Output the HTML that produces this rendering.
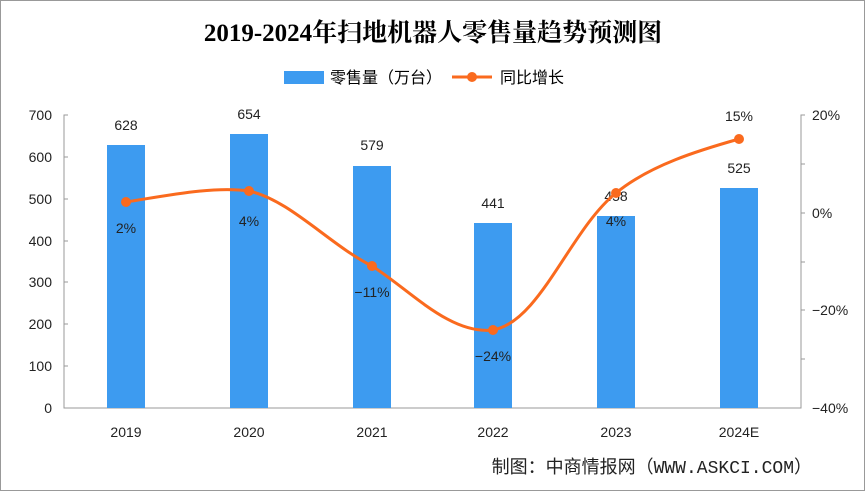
<!DOCTYPE html><html><head><meta charset="utf-8"><style>body{margin:0;background:#fff}svg{display:block}text{font-family:"Liberation Sans","Noto Sans CJK SC",sans-serif}</style></head><body>
<svg width="865" height="491" viewBox="0 0 865 491">
<rect x="0.5" y="0.5" width="864" height="490" fill="#fff" stroke="#999"/>
<text x="433" y="41" text-anchor="middle" font-size="25" font-weight="bold" style="font-family:'Liberation Serif','Noto Serif CJK SC',serif">2019-2024年扫地机器人零售量趋势预测图</text>
<rect x="284" y="71" width="40" height="13" fill="#3d9bf0"/>
<text x="330" y="83" font-size="16">零售量（万台）</text>
<line x1="452" y1="77" x2="492" y2="77" stroke="#fa6a1e" stroke-width="3"/><circle cx="472" cy="77" r="5" fill="#fa6a1e"/>
<text x="500" y="83" font-size="16">同比增长</text>
<g stroke="#999" fill="none"><path d="M68 115H64V408H801V115H805"/>
<path d="M64 157h4M64 199h4M64 241h4M64 282h4M64 324h4M64 366h4M801 164h4M801 213h4M801 262h4M801 310h4M801 359h4"/></g>
<g font-size="14" text-anchor="end" fill="#222"><text x="52" y="120">700</text><text x="52" y="162">600</text><text x="52" y="204">500</text><text x="52" y="246">400</text><text x="52" y="287">300</text><text x="52" y="329">200</text><text x="52" y="371">100</text><text x="52" y="413">0</text></g>
<g font-size="14" fill="#222" style="font-family:'Liberation Serif',serif"><text x="812" y="120">20%</text><text x="812" y="218">0%</text><text x="812" y="315">−20%</text><text x="812" y="413">−40%</text></g>
<g fill="#3d9bf0"><rect x="107" y="145" width="38" height="263"/><rect x="230" y="134" width="38" height="274"/><rect x="353" y="166" width="38" height="242"/><rect x="474" y="223" width="38" height="185"/><rect x="597" y="216" width="38" height="192"/><rect x="720" y="188" width="38" height="220"/></g>
<g font-size="14" text-anchor="middle" fill="#222"><text x="126" y="130">628</text><text x="249" y="119">654</text><text x="372" y="150">579</text><text x="493" y="208">441</text><text x="616" y="201">458</text><text x="739" y="173">525</text>
<text x="126" y="437">2019</text><text x="249" y="437">2020</text><text x="372" y="437">2021</text><text x="493" y="437">2022</text><text x="616" y="437">2023</text><text x="739" y="437">2024E</text></g>
<path d="M126 202C170 195 215 186 249 191C290 200 330 245 372 266C410 290 450 335 493 330C540 322 570 230 616 193C650 165 700 150 739 139" fill="none" stroke="#fa6a1e" stroke-width="3"/>
<g fill="#fa6a1e"><circle cx="126" cy="202" r="5"/><circle cx="249" cy="191" r="5"/><circle cx="372" cy="266" r="5"/><circle cx="493" cy="330" r="5"/><circle cx="616" cy="193" r="5"/><circle cx="739" cy="139" r="5"/></g>
<g font-size="14" text-anchor="middle" fill="#222" style="font-family:'Liberation Serif',serif"><text x="126" y="233">2%</text><text x="249" y="226">4%</text><text x="372" y="297">−11%</text><text x="493" y="361">−24%</text><text x="616" y="226">4%</text><text x="739" y="121">15%</text></g>
<text x="812" y="473" text-anchor="end" font-size="18" fill="#222" style="font-family:'Liberation Mono','Noto Sans CJK SC',monospace">制图：中商情报网（WWW.ASKCI.COM）</text>
</svg></body></html>
